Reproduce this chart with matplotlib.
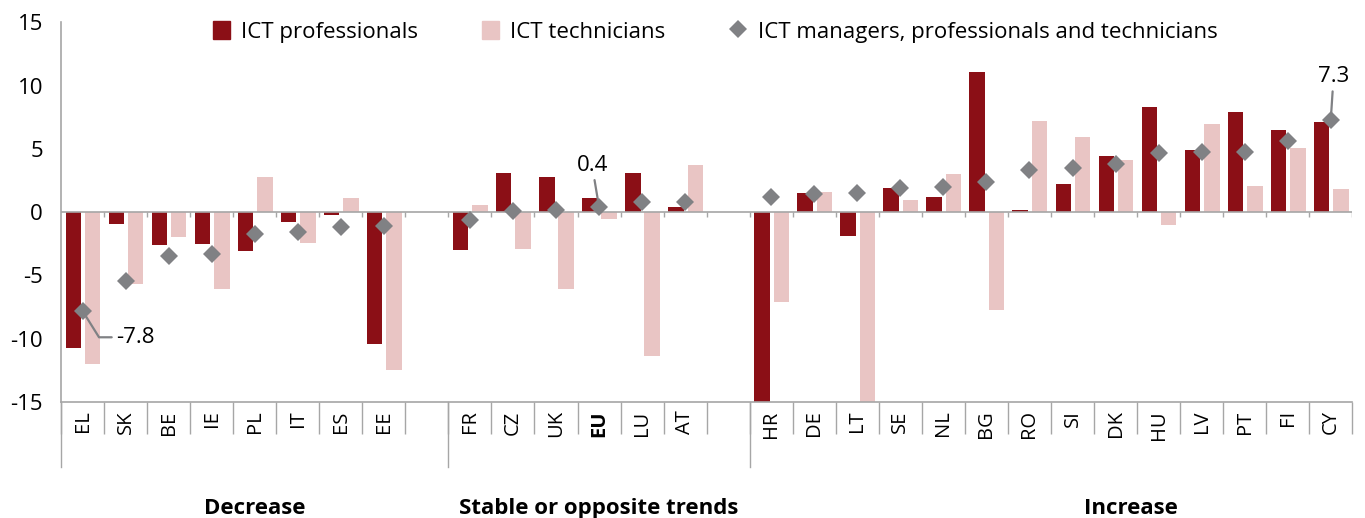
import numpy as np
import matplotlib.pyplot as plt
from matplotlib.patches import Patch
from matplotlib.lines import Line2D

plt.rcParams['font.family'] = ['Open Sans', 'DejaVu Sans']

# data (percentage point change)
groups = ['Decrease', 'Stable or opposite trends', 'Increase']
countries = [
    ['EL', 'SK', 'BE', 'IE', 'PL', 'IT', 'ES', 'EE'],
    ['FR', 'CZ', 'UK', 'EU', 'LU', 'AT'],
    ['HR', 'DE', 'LT', 'SE', 'NL', 'BG', 'RO', 'SI', 'DK', 'HU', 'LV', 'PT', 'FI', 'CY'],
]
professionals = [
    [-10.7, -0.9, -2.6, -2.5, -3.1, -0.8, -0.2, -10.4],
    [-3.0, 3.1, 2.8, 1.1, 3.1, 0.4],
    [-16.0, 1.5, -1.85, 1.9, 1.2, 11.1, 0.15, 2.2, 4.4, 8.3, 4.9, 7.9, 6.5, 7.1],
]
technicians = [
    [-12.0, -5.7, -2.0, -6.1, 2.8, -2.4, 1.1, -12.5],
    [0.6, -2.9, -6.1, -0.5, -11.4, 3.7],
    [-7.1, 1.6, -16.0, 1.0, 3.0, -7.75, 7.2, 5.9, 4.1, -1.0, 7.0, 2.1, 5.1, 1.8],
]
managers = [
    [-7.8, -5.4, -3.5, -3.3, -1.7, -1.6, -1.2, -1.1],
    [-0.6, 0.1, 0.2, 0.4, 0.8, 0.8],
    [1.2, 1.4, 1.5, 1.9, 2.0, 2.35, 3.3, 3.5, 3.8, 4.65, 4.75, 4.75, 5.6, 7.3],
]
labelled = {'EL': '-7.8', 'EU': '0.4', 'CY': '7.3'}

c_prof = '#8B0F16'
c_tech = '#E9C5C4'
c_mgr = '#808184'
c_axis = '#A6A6A6'

# slot positions, one empty slot between groups
xs, names, prof, tech, mgr, starts = [], [], [], [], [], []
pos = 0
for g in range(len(groups)):
    starts.append(pos)
    for k in range(len(countries[g])):
        xs.append(pos + 0.5)
        names.append(countries[g][k])
        prof.append(professionals[g][k])
        tech.append(technicians[g][k])
        mgr.append(managers[g][k])
        pos += 1
    if g < len(groups) - 1:
        pos += 1
nslots = pos
xs = np.array(xs)

fig = plt.figure(figsize=(13.65, 5.18), dpi=100)
ax = fig.add_axes([0.0447, 0.2239, 0.946, 0.733])

w = 0.36
ax.bar(xs - 0.215, prof, w, color=c_prof, zorder=2)
ax.bar(xs + 0.235, tech, w, color=c_tech, zorder=2)
ax.plot(xs, mgr, 'D', color=c_mgr, markersize=9.5, zorder=4, markeredgewidth=0)

ax.set_xlim(0, nslots)
ax.set_ylim(-15, 15)
ax.axhline(0, color=c_axis, lw=1.2, zorder=3)
# small ticks at zero line
ax.vlines(np.arange(1, nslots + 1), -0.35, 0, color=c_axis, lw=1, zorder=3)

for s in ['top', 'right']:
    ax.spines[s].set_visible(False)
for s in ['left', 'bottom']:
    ax.spines[s].set_color(c_axis)
    ax.spines[s].set_linewidth(1.2)

ax.set_yticks([-15, -10, -5, 0, 5, 10, 15])
ax.set_yticklabels(['-15', '-10', '-5', '0', '5', '10', '15'])
ax.tick_params(axis='y', length=0, pad=13, labelsize=16)

ax.set_xticks(np.arange(0, nslots + 1))
ax.set_xticklabels([])
ax.tick_params(axis='x', which='major', length=23, color=c_axis, width=1)
ax.set_xticks(xs, minor=True)
ax.set_xticklabels(names, minor=True, rotation=90)
ax.tick_params(axis='x', which='minor', length=0, pad=6, labelsize=14.5)
for t in ax.get_xticklabels(minor=True):
    if t.get_text() == 'EU':
        t.set_fontweight('bold')

# group separators and group titles
ends = starts[1:] + [nslots]
for g, name in enumerate(groups):
    ax.plot([starts[g], starts[g]], [-15, -20.1], color=c_axis, lw=1,
            clip_on=False)
    mid = (starts[g] + ends[g]) / 2
    if g == len(groups) - 1:
        mid += 1.85
    ax.text(mid, -23.4, name, ha='center', va='center', fontsize=16,
            fontweight='bold')

# value labels with leader lines
offsets = {'EL': (24, -19, 'left', 'angle,angleA=0,angleB=122'),
           'EU': (-5, 30, 'center', 'arc3'),
           'CY': (2, 31, 'center', 'arc3')}
for i, n in enumerate(names):
    if n in labelled:
        dx, dy, ha, cs = offsets[n]
        ax.annotate(labelled[n], xy=(xs[i], mgr[i]), xytext=(dx, dy),
                    textcoords='offset points', ha=ha, va='center', fontsize=16,
                    arrowprops=dict(arrowstyle='-', color=c_mgr, lw=1.6,
                                    connectionstyle=cs, shrinkA=1, shrinkB=3),
                    zorder=5)

handles = [Patch(color=c_prof), Patch(color=c_tech),
           Line2D([], [], marker='D', color=c_mgr, ls='', markersize=9,
                  markeredgewidth=0)]
fig.legend(handles, ['ICT professionals', 'ICT technicians',
                     'ICT managers, professionals and technicians'],
           loc='upper center', bbox_to_anchor=(0.524, 0.998), ncol=3,
           frameon=False, fontsize=16, handlelength=0.75, handleheight=0.9,
           handletextpad=0.5, columnspacing=2.9)

fig.savefig('out.png', dpi=100)
